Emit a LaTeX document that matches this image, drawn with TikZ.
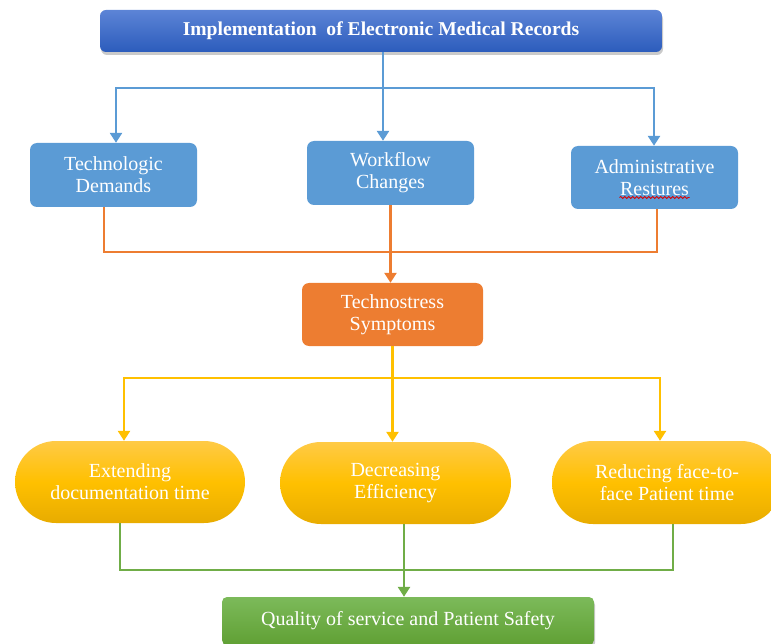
\documentclass[tikz,border=0pt]{standalone}
\usepackage{fontspec}
\setmainfont{Liberation Serif}
\usetikzlibrary{arrows.meta,shadows,decorations.pathmorphing}

\definecolor{hdtop}{RGB}{92,132,214}
\definecolor{hdbot}{RGB}{44,92,188}
\definecolor{midblue}{RGB}{91,155,213}
\definecolor{stressorange}{RGB}{237,125,49}
\definecolor{ylwtop}{RGB}{255,202,70}
\definecolor{ylwmid}{RGB}{255,192,0}
\definecolor{ylwbot}{RGB}{232,172,0}
\definecolor{grntop}{RGB}{124,186,90}
\definecolor{grnbot}{RGB}{96,160,52}
\definecolor{lnblue}{RGB}{91,155,213}
\definecolor{lnorange}{RGB}{237,125,49}
\definecolor{lnyellow}{RGB}{255,192,0}
\definecolor{lngreen}{RGB}{112,173,71}

\tikzset{
  boxtext/.style={text=white, align=center, font=\fontsize{20}{22}\selectfont},
  headbox/.style={boxtext, rounded corners=6pt, top color=hdtop, bottom color=hdbot,
    font=\fontsize{19.6}{22}\selectfont\bfseries,
    drop shadow={shadow xshift=1pt, shadow yshift=-3pt, opacity=0.35, fill=black!60}},
  factorbox/.style={boxtext, rounded corners=7pt, fill=midblue,
    minimum width=167pt, minimum height=64pt},
  stressbox/.style={boxtext, rounded corners=7pt, fill=stressorange,
    minimum width=181pt, minimum height=63pt},
  effectpill/.style={boxtext, rounded corners=41pt, top color=ylwtop, bottom color=ylwbot,
    middle color=ylwmid, minimum width=230pt, minimum height=82pt},
  outcomebox/.style={boxtext, rounded corners=5pt, top color=grntop, bottom color=grnbot,
    drop shadow={shadow xshift=1pt, shadow yshift=-3pt, opacity=0.35, fill=black!60}},
  link/.style={line width=2.6pt},
  tip/.style={-{Triangle[length=10pt,width=12pt]}},
  tips/.style={{Triangle[length=10pt,width=12pt]}-{Triangle[length=10pt,width=12pt]}},
}

\begin{document}
\begin{tikzpicture}[x=1pt,y=-1pt]
\useasboundingbox (0,0) rectangle (771,644);

% boxes
\node[headbox, minimum width=562pt, minimum height=42pt] (top) at (381,31)
  {Implementation\ \ of Electronic Medical Records};

\node[factorbox] (tech)  at (113.5,175)   {Technologic\\Demands};
\node[factorbox] (work)  at (390.5,173)   {Workflow\\Changes};
\node[factorbox, minimum height=63pt] (admin) at (654.5,177.5) {Administrative\\Restures};

\node[stressbox] (stress) at (392.5,314.5) {Technostress\\Symptoms};

\node[effectpill] (ext) at (130,482)   {Extending\\documentation time};
\node[effectpill, minimum width=231pt] (dec) at (395.5,483) {Decreasing\\Efficiency};
\node[effectpill, minimum height=83pt] (red) at (667,482.5) {Reducing face-to-\\face Patient time};

\node[outcomebox, minimum width=372pt, minimum height=48pt] (qual) at (408,621)
  {Quality of service and Patient Safety};

% spell-check underline below the second word
\draw[red!85!black, line width=0.8pt, decorate,
  decoration={snake, amplitude=1.1pt, segment length=4pt}]
  ([xshift=-35pt,yshift=-20pt]admin.center) -- ([xshift=35pt,yshift=-20pt]admin.center);

% junction points
\coordinate (bj) at (383,88);
\coordinate (oj) at (390,252);
\coordinate (yj) at (393,378);
\coordinate (gj) at (404,570);
\coordinate (gs) at ([xshift=8.5pt]dec.south);

% blue connectors
\draw[link, lnblue, tip] ([xshift=2pt]top.south) -- ([xshift=-7.5pt]work.north);
\draw[link, lnblue, tips] ([xshift=2.5pt]tech.north) |- (bj) -| ([xshift=-0.5pt]admin.north);

% orange connectors
\draw[link, lnorange] ([xshift=-9.5pt]tech.south) |- (oj) -| ([xshift=2.5pt]admin.south);
\draw[link, lnorange, tip] (work.south) -- (work.south |- stress.north);

% yellow connectors
\draw[link, lnyellow, tip] (stress.south) -- (stress.south |- dec.north);
\draw[link, lnyellow, tips] ([xshift=-6pt]ext.north) |- (yj) -| ([xshift=-7pt]red.north);

% green connectors
\draw[link, lngreen] ([xshift=-10pt]ext.south) |- (gj) -| ([xshift=6pt]red.south);
\draw[link, lngreen, tip] (gs) -- (gs |- qual.north);
\end{tikzpicture}
\end{document}
